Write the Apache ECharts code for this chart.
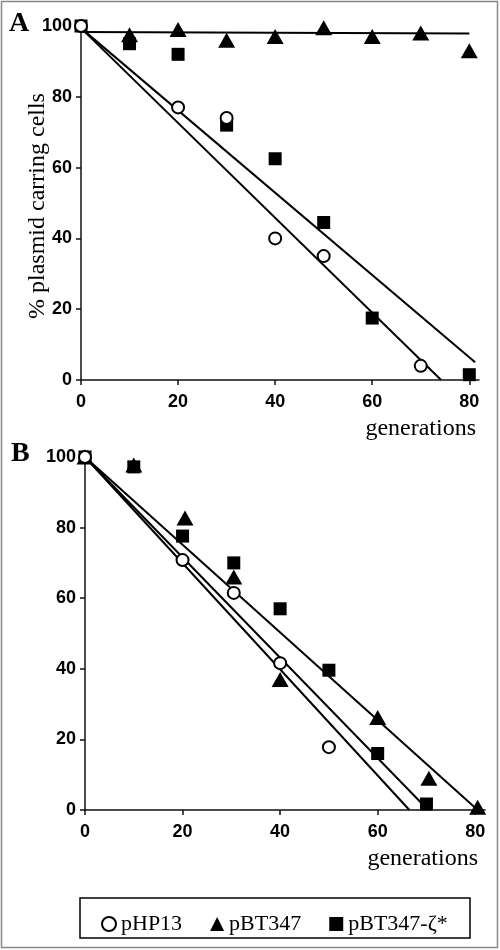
<!DOCTYPE html>
<html><head><meta charset="utf-8">
<script src="https://cdn.jsdelivr.net/npm/echarts@6/dist/echarts.min.js"></script>
<style>html,body{margin:0;padding:0;background:#fff}#c{width:500px;height:950px}</style>
</head><body><div id="c"></div>
<script>
// ---- Data (panel A) ----
const genA_pHP13 = [0, 20, 30, 40, 50, 70];
const valA_pHP13 = [100, 77, 74, 40, 35, 4];
const genA_pBT347 = [10, 20, 30, 40, 50, 60, 70, 80];
const valA_pBT347 = [97.5, 99, 96, 97, 99.5, 97, 98, 93];
const genA_zeta = [0, 10, 20, 30, 40, 50, 60, 80];
const valA_zeta = [100, 95, 92, 72, 62.5, 44.5, 17.5, 1.5];
const fitA_pHP13 = [[0, 99.4], [74.2, 0]];
const fitA_pBT347 = [[0, 98.3], [80, 97.9]];
const fitA_zeta = [[0, 99.4], [81.2, 5]];
// ---- Data (panel B) ----
const genB_pHP13 = [0, 20, 30.5, 40, 50];
const valB_pHP13 = [100, 70.8, 61.5, 41.6, 17.8];
const genB_pBT347 = [0, 10, 20.5, 30.5, 40, 60, 70.5, 80.5];
const valB_pBT347 = [100, 97.7, 82.7, 66, 37, 26.2, 9, 0.8];
const genB_zeta = [0, 10, 20, 30.5, 40, 50, 60, 70];
const valB_zeta = [100, 97.2, 77.6, 70, 57, 39.6, 16, 1.7];
const fitB_pHP13 = [[0, 100], [66.5, 0]];
const fitB_pBT347 = [[0, 100], [80.5, 0]];
const fitB_zeta = [[0, 100], [69.5, 1.2]];
// ---- Axis ticks ----
const xTicks = [0, 20, 40, 60, 80];
const names = ['pHP13', 'pBT347', 'pBT347-ζ*'];

const zip = (a, b) => a.map((v, i) => [v, b[i]]);
const serifFont = "'Liberation Serif','Times New Roman',serif";
const sansFont = "'Liberation Sans',Arial,sans-serif";

const sym = {
  'pHP13': {symbol: 'circle', symbolSize: 12, itemStyle: {color: '#fff', borderColor: '#000', borderWidth: 2, opacity: 1}},
  'pBT347': {symbol: 'triangle', symbolSize: [17, 15], itemStyle: {color: '#000', opacity: 1}},
  'pBT347-ζ*': {symbol: 'rect', symbolSize: 13, itemStyle: {color: '#000', opacity: 1}}
};

function scatter(name, idx, data, z) {
  return Object.assign({type: 'scatter', name: name, xAxisIndex: idx, yAxisIndex: idx, data: data, clip: false, z: z}, sym[name]);
}
function fit(idx, data) {
  return {type: 'line', xAxisIndex: idx, yAxisIndex: idx, data: data, symbol: 'none', clip: false,
    lineStyle: {color: '#000', width: 2}, silent: true, z: 1};
}
function xAxis(idx) {
  return {type: 'value', gridIndex: idx, min: 0, max: 82, splitLine: {show: false},
    axisLine: {show: true, onZero: false, lineStyle: {color: '#111', width: 1.5}},
    axisTick: {show: true, length: 5, customValues: xTicks, lineStyle: {color: '#111', width: 1.5}},
    axisLabel: {customValues: xTicks, margin: 13, fontFamily: sansFont, fontWeight: 'bold', fontSize: 18, color: '#000'}};
}
function yAxis(idx) {
  return {type: 'value', gridIndex: idx, min: 0, max: 100, interval: 20, splitLine: {show: false},
    axisLine: {show: true, lineStyle: {color: '#111', width: 1.5}},
    axisTick: {show: true, length: 5, lineStyle: {color: '#111', width: 1.5}},
    axisLabel: {margin: 9, fontFamily: sansFont, fontWeight: 'bold', fontSize: 18, color: '#000'}};
}

const chart = echarts.init(document.getElementById('c'), null, {renderer: 'canvas'});
chart.setOption({
  animation: false,
  backgroundColor: '#fff',
  grid: [
    {left: 81, top: 26, width: 398, height: 354},
    {left: 85, top: 457, width: 400, height: 353}
  ],
  xAxis: [xAxis(0), xAxis(1)],
  yAxis: [yAxis(0), yAxis(1)],
  legend: {
    data: names, left: 96, top: 908, itemWidth: 14, itemHeight: 14, itemGap: 28,
    textStyle: {fontFamily: serifFont, fontSize: 22, color: '#000'}
  },
  graphic: [
    {type: 'rect', shape: {x: 1.5, y: 1.5, width: 496, height: 946}, style: {fill: 'none', stroke: '#888', lineWidth: 1.5}, silent: true},
    {type: 'rect', shape: {x: 80, y: 898, width: 390, height: 40}, style: {fill: 'none', stroke: '#000', lineWidth: 1.5}, silent: true},
    {type: 'text', left: 9, top: 10, style: {text: 'A', font: "bold 28px " + serifFont, fill: '#000'}},
    {type: 'text', left: 11, top: 440, style: {text: 'B', font: "bold 28px " + serifFont, fill: '#000'}},
    {type: 'text', x: 38, y: 206, rotation: Math.PI / 2,
      style: {text: '% plasmid carring cells', font: "24px " + serifFont, fill: '#000', align: 'center', verticalAlign: 'middle'}},
    {type: 'text', x: 476, y: 429, style: {text: 'generations', font: "24px " + serifFont, fill: '#000', align: 'right', verticalAlign: 'middle'}},
    {type: 'text', x: 478, y: 859, style: {text: 'generations', font: "24px " + serifFont, fill: '#000', align: 'right', verticalAlign: 'middle'}}
  ],
  series: [
    fit(0, fitA_pHP13), fit(0, fitA_pBT347), fit(0, fitA_zeta),
    scatter('pBT347-ζ*', 0, zip(genA_zeta, valA_zeta), 3),
    scatter('pHP13', 0, zip(genA_pHP13, valA_pHP13), 4),
    scatter('pBT347', 0, zip(genA_pBT347, valA_pBT347), 5),
    fit(1, fitB_pHP13), fit(1, fitB_pBT347), fit(1, fitB_zeta),
    scatter('pBT347', 1, zip(genB_pBT347, valB_pBT347), 3),
    scatter('pBT347-ζ*', 1, zip(genB_zeta, valB_zeta), 4),
    scatter('pHP13', 1, zip(genB_pHP13, valB_pHP13), 5)
  ]
});
</script></body></html>
